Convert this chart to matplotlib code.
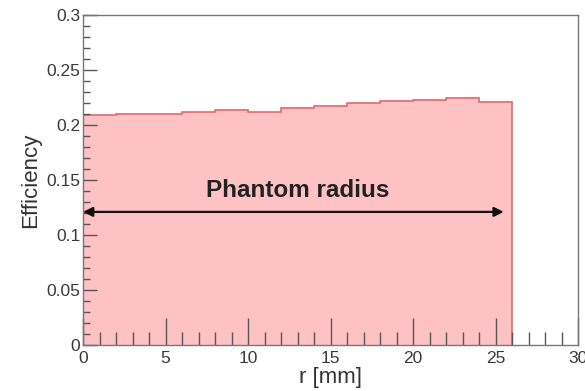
import numpy as np
import matplotlib
matplotlib.use("Agg")
import matplotlib.pyplot as plt
from matplotlib.ticker import MultipleLocator

# Efficiency per radial bin (2 mm bins from 0 to 26 mm)
bin_edges = [0, 2, 4, 6, 8, 10, 12, 14, 16, 18, 20, 22, 24, 26]
efficiency = [0.2091, 0.2097, 0.2103, 0.2118, 0.2139, 0.2121, 0.2155,
              0.2175, 0.2197, 0.2218, 0.2227, 0.2243, 0.2212]

arrow_y = 0.121
arrow_span = [0.0, 25.5]
label_text = "Phantom radius"
x_label = "r [mm]"
y_label = "Efficiency"

plt.rcParams['font.family'] = ['Liberation Sans', 'DejaVu Sans']

fig = plt.figure(figsize=(5.85, 3.91), dpi=100)
W, H = 585, 391
ax = fig.add_axes([83 / W, (H - 345) / H, (578 - 83) / W, (345 - 15) / H])

fill_col = '#ffc2c4'
edge_col = '#e0696e'
ax.stairs(efficiency, bin_edges, fill=True, color=fill_col, zorder=1)
ax.stairs(efficiency, bin_edges, baseline=0, fill=False, color=edge_col,
          lw=1.2, zorder=2)

ax.set_xlim(0, 30)
ax.set_ylim(0, 0.3)

ax.xaxis.set_major_locator(MultipleLocator(5))
ax.xaxis.set_minor_locator(MultipleLocator(1))
ax.yaxis.set_minor_locator(MultipleLocator(0.01))
ax.set_yticks([0, 0.05, 0.1, 0.15, 0.2, 0.25, 0.3])
ax.set_yticklabels(['0', '0.05', '0.1', '0.15', '0.2', '0.25', '0.3'])

tick_col = '#555555'
ax.tick_params(axis='x', which='major', direction='in', length=19.5, width=1,
               color=tick_col, labelsize=12.5, labelcolor='#3a3a3a', pad=4,
               top=False)
ax.tick_params(axis='x', which='minor', direction='in', length=9.5, width=1,
               color=tick_col, top=False)
ax.tick_params(axis='y', which='major', direction='in', length=10, width=1,
               color=tick_col, labelsize=12.5, labelcolor='#3a3a3a', pad=2,
               right=False)
ax.tick_params(axis='y', which='minor', direction='in', length=5, width=1,
               color=tick_col, right=False)
for t in ax.get_xticklines() + ax.get_yticklines():
    t.set_zorder(3)
ax.set_axisbelow(False)

for s in ax.spines.values():
    s.set_color('#777777')
    s.set_linewidth(1.0)
    s.set_zorder(4)

ax.set_xlabel(x_label, fontsize=16, color='#333333', labelpad=1)
ax.set_ylabel(y_label, fontsize=16, color='#333333', labelpad=4)

ax.annotate('', xy=(arrow_span[0], arrow_y), xytext=(arrow_span[1], arrow_y),
            arrowprops=dict(arrowstyle='<|-|>', color='#111111', lw=1.6,
                            mutation_scale=14, shrinkA=0, shrinkB=0),
            zorder=5)
ax.text(13.0, 0.140, label_text, fontsize=17.5, fontweight='bold',
        color='#222222', ha='center', va='center', zorder=5)

fig.savefig('out.png', dpi=100)
